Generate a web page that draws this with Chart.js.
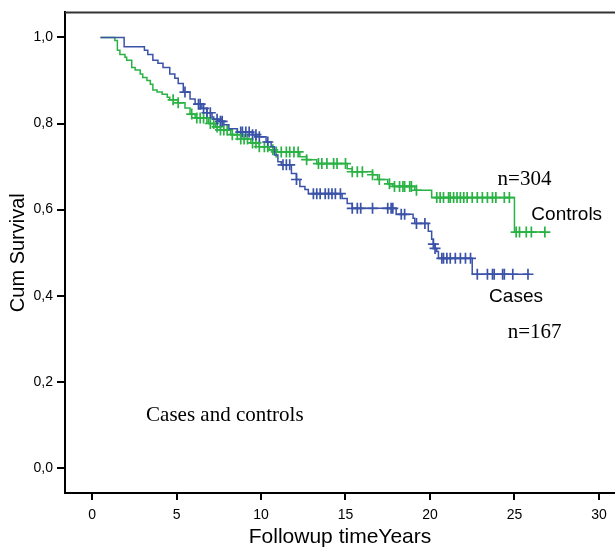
<!DOCTYPE html>
<html><head><meta charset="utf-8">
<script src="https://cdn.jsdelivr.net/npm/chart.js@4/dist/chart.umd.min.js"></script>
<style>html,body{margin:0;padding:0;background:#fff}#wrap{width:615px;height:547px}</style>
</head><body><div id="wrap"><canvas id="c" width="615" height="547"></canvas></div>
<script>
// ---- Data ----
const casesTimes = [0.5,1.9,3.1,3.3,3.6,3.9,4.2,4.6,4.9,5.1,5.4,5.8,6.1,6.5,6.8,7.1,7.2,7.5,7.8,8.1,8.6,9.5,9.9,10.3,10.6,10.8,11.0,11.2,11.8,12.1,12.3,12.6,12.8,14.8,15.1,15.4,18.0,19.0,19.1,19.9,20.1,20.2,20.3,20.4,20.5,22.5,25.9];
const casesSurv  = [1.0,0.978,0.97,0.96,0.947,0.94,0.93,0.915,0.905,0.893,0.873,0.857,0.845,0.835,0.825,0.815,0.81,0.805,0.797,0.788,0.78,0.774,0.769,0.757,0.746,0.727,0.711,0.704,0.684,0.67,0.654,0.647,0.637,0.626,0.614,0.603,0.589,0.58,0.568,0.55,0.531,0.52,0.51,0.503,0.487,0.45,0.45];
const casesCensored = [5.5,6.3,6.4,6.6,6.8,7.0,7.4,7.6,7.7,8.8,8.9,9.1,9.3,9.5,9.7,9.9,10.4,11.3,11.5,11.7,12.1,13.1,13.3,13.5,13.8,14.0,14.2,14.4,14.7,15.4,15.7,15.9,16.6,17.5,17.7,17.8,18.3,18.5,19.2,19.7,20.2,20.3,20.7,20.8,21.0,21.2,21.5,21.8,22.1,22.4,22.8,23.4,23.7,23.8,24.3,24.4,24.9,25.8];

const controlsTimes = [0.5,1.35,1.5,1.65,1.95,2.05,2.35,2.55,2.85,3.0,3.25,3.45,3.6,3.85,4.15,4.45,4.6,5.1,5.5,5.8,6.1,6.9,7.3,7.6,8.2,8.8,9.4,9.9,10.5,10.8,12.3,12.7,13.3,15.1,15.4,16.6,16.9,17.5,17.8,19.1,20.1,25.0,26.8];
const controlsSurv  = [1.0,0.993,0.97,0.96,0.954,0.947,0.93,0.924,0.915,0.907,0.9,0.891,0.878,0.873,0.868,0.861,0.855,0.848,0.836,0.822,0.813,0.8,0.792,0.785,0.774,0.764,0.755,0.746,0.739,0.734,0.723,0.716,0.707,0.695,0.688,0.681,0.67,0.66,0.654,0.645,0.628,0.548,0.548];
const controlsCensored = [4.8,5.1,5.9,6.2,6.4,6.6,6.8,7.0,7.2,7.4,7.6,7.8,8.0,8.3,8.6,8.8,9.0,9.2,9.5,9.7,9.9,10.2,10.4,10.7,10.9,11.2,11.5,11.7,11.95,12.2,12.7,13.4,13.6,13.9,14.3,14.5,15.0,15.4,15.7,16.0,16.6,17.0,17.6,17.9,18.2,18.4,18.5,18.8,18.9,19.2,20.4,20.6,20.8,21.1,21.2,21.4,21.6,21.8,22.0,22.2,22.5,22.8,23.1,23.4,23.7,23.9,24.4,24.7,25.1,25.3,25.7,26.0,26.8];

const xTickValues = [0,5,10,15,20,25,30];
const yTickValues = [0,0.2,0.4,0.6,0.8,1.0];

const casesLabel = 'Cases';
const controlsLabel = 'Controls';
const xTitle = 'Followup timeYears';
const yTitle = 'Cum Survival';
const annotations = [
  {text:'n=304', x:24.0, y:0.67, font:'21px "Liberation Serif", serif'},
  {text:'Controls', x:26.0, y:0.587, font:'19px "Liberation Sans", Arial, sans-serif'},
  {text:'Cases', x:23.5, y:0.397, font:'19px "Liberation Sans", Arial, sans-serif'},
  {text:'n=167', x:24.6, y:0.314, font:'21px "Liberation Serif", serif'},
  {text:'Cases and controls', x:3.2, y:0.122, font:'21px "Liberation Serif", serif'}
];

// ---- Helpers ----
function steps(times, surv){ return times.map((t,i)=>({x:t,y:surv[i]})); }
function survAt(times, surv, t){
  let v = surv[0];
  for (let i=0;i<times.length;i++){ if (times[i] <= t + 1e-9) v = surv[i]; }
  return v;
}
function censorPts(cens, times, surv){ return cens.map(t=>({x:t,y:survAt(times,surv,t)})); }

const BLUE = 'rgb(58,82,168)';
const GREEN = 'rgb(42,178,68)';

const annotationPlugin = {
  id:'annot',
  afterDatasetsDraw(chart){
    const {ctx, scales:{x,y}, chartArea} = chart;
    ctx.save();
    ctx.fillStyle = '#000';
    ctx.textAlign = 'left';
    ctx.textBaseline = 'middle';
    annotations.forEach(a=>{
      ctx.font = a.font;
      ctx.fillText(a.text, x.getPixelForValue(a.x), y.getPixelForValue(a.y));
    });
    ctx.strokeStyle = '#333';
    ctx.lineWidth = 2;
    ctx.beginPath();
    ctx.moveTo(chartArea.left, chartArea.top);
    ctx.lineTo(chartArea.right, chartArea.top);
    ctx.stroke();
    ctx.restore();
  }
};

new Chart(document.getElementById('c'), {
  type:'line',
  data:{
    datasets:[
      {label:casesLabel, data:steps(casesTimes,casesSurv), stepped:'before', borderColor:BLUE, borderWidth:1.5, pointRadius:0, fill:false},
      {label:controlsLabel, data:steps(controlsTimes,controlsSurv), stepped:'before', borderColor:GREEN, borderWidth:1.5, pointRadius:0, fill:false},
      {label:casesLabel+' censored', type:'scatter', data:censorPts(casesCensored,casesTimes,casesSurv), pointStyle:'cross', pointRadius:5.5, borderColor:BLUE, backgroundColor:BLUE, pointBorderWidth:1.7, showLine:false},
      {label:controlsLabel+' censored', type:'scatter', data:censorPts(controlsCensored,controlsTimes,controlsSurv), pointStyle:'cross', pointRadius:5.5, borderColor:GREEN, backgroundColor:GREEN, pointBorderWidth:1.7, showLine:false}
    ]
  },
  options:{
    responsive:false, animation:false,
    layout:{autoPadding:false, padding:{top:10,left:0,right:0,bottom:0}},
    plugins:{legend:{display:false}, tooltip:{enabled:false}},
    scales:{
      x:{type:'linear', min:-1.6, max:30.95,
        afterBuildTicks(s){ s.ticks = xTickValues.map(v=>({value:v})); },
        afterFit(s){ s.height = 54; },
        grid:{drawOnChartArea:false, drawTicks:true, tickLength:7, color:'#000', lineWidth:2},
        border:{display:true, color:'#000', width:2},
        ticks:{color:'#000', font:{family:'"Liberation Sans", Arial, sans-serif', size:14}, padding:7, maxRotation:0, callback:v=>String(v)},
        title:{display:true, text:xTitle, color:'#000', font:{family:'"Liberation Sans", Arial, sans-serif', size:21, lineHeight:0.9}, padding:{top:0,bottom:0}}
      },
      y:{type:'linear', min:-0.058, max:1.058,
        afterBuildTicks(s){ s.ticks = yTickValues.map(v=>({value:v})); },
        afterFit(s){ s.width = 65; },
        grid:{drawOnChartArea:false, drawTicks:true, tickLength:8, color:'#000', lineWidth:2},
        border:{display:true, color:'#000', width:2},
        ticks:{color:'#000', font:{family:'"Liberation Sans", Arial, sans-serif', size:14}, padding:4, callback:v=>v.toFixed(1).replace('.',',')},
        title:{display:true, text:yTitle, color:'#000', font:{family:'"Liberation Sans", Arial, sans-serif', size:20, lineHeight:1}, padding:{top:8,bottom:0}}
      }
    }
  },
  plugins:[annotationPlugin]
});
</script></body></html>
